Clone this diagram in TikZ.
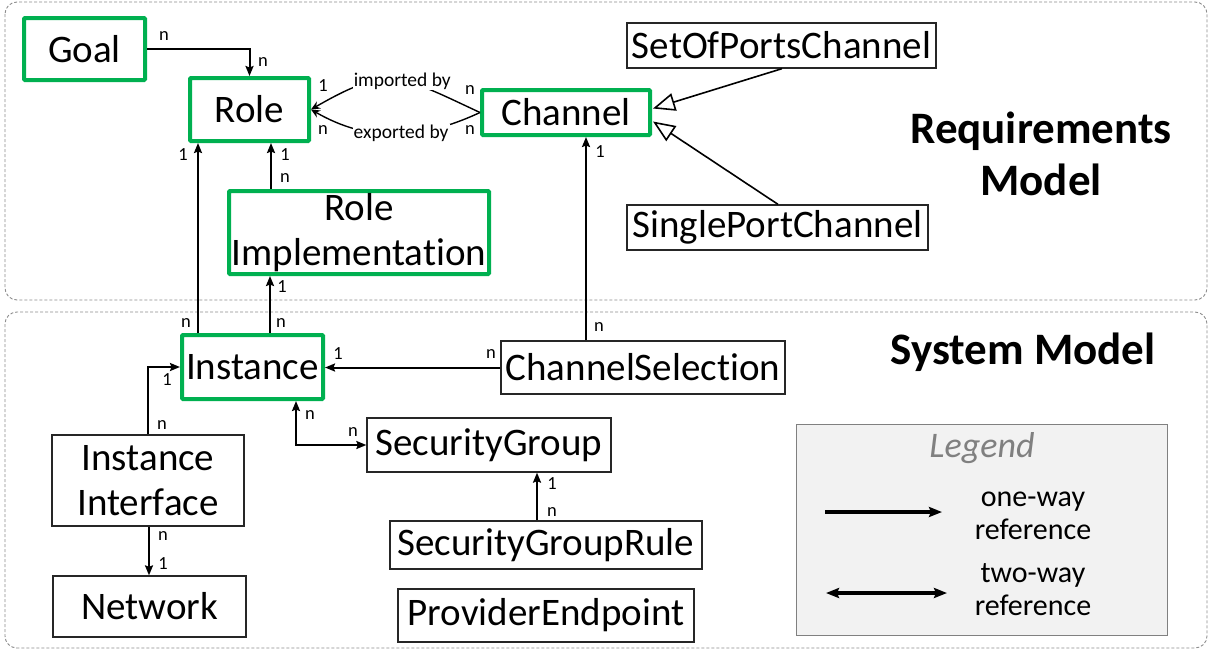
\documentclass[tikz,border=0pt]{standalone}
\usepackage{fontspec}
\setmainfont{Carlito}[Ligatures=NoCommon]
\usetikzlibrary{arrows.meta,calc}
\definecolor{modelgreen}{HTML}{00B050}
\definecolor{legendfill}{HTML}{F2F2F2}
\tikzset{
  region/.style={draw=black!45, line width=0.9pt, dash pattern=on 3pt off 2pt, rounded corners=12pt},
  keybox/.style={draw=modelgreen, line width=4pt, rounded corners=1pt, inner sep=0pt, align=center,
                 font=\fontsize{39}{45}\selectfont},
  plainbox/.style={draw=black!85, line width=1.3pt, inner sep=0pt, align=center,
                   font=\fontsize{39}{45}\selectfont},
  ref/.style={line width=2pt, -{Stealth[length=10pt,width=8pt,inset=1.5pt]}},
  bothref/.style={line width=2pt, {Stealth[length=10pt,width=8pt,inset=1.5pt]}-{Stealth[length=10pt,width=8pt,inset=1.5pt]}},
  thinref/.style={line width=1.4pt, -{Stealth[length=9pt,width=8pt,inset=3pt]}},
  inherit/.style={line width=1.6pt, -{Triangle[open,length=22pt,width=18pt,fill=white]}},
  card/.style={font=\fontsize{18.5}{21}\selectfont, inner sep=0pt},
  curvelab/.style={font=\fontsize{19.5}{22}\selectfont, fill=white, inner sep=1pt},
  heading/.style={font=\bfseries\fontsize{45}{52}\selectfont, align=center, inner sep=0pt},
}
\begin{document}
\begin{tikzpicture}[x=1pt, y=-1pt]
\useasboundingbox (0,0) rectangle (1210,651);

% model regions
\draw[region] (5,2) rectangle (1207,300);
\draw[region] (5,312) rectangle (1207,648);

% requirements model classes
\node[keybox, minimum width=121pt, minimum height=62pt] (goal) at (84.5,49) {Goal};
\node[keybox, minimum width=119pt, minimum height=63pt] (role) at (249.5,109.5) {Role};
\node[keybox, minimum width=168pt, minimum height=45pt] (chan) at (566,112.5) {Channel};
\node[keybox, minimum width=260pt, minimum height=83pt] (rimpl) at (359,232.5) {Role\\Implementation};
\node[plainbox, minimum width=309pt, minimum height=45pt] (setch) at (781.5,45.5) {SetOfPortsChannel};
\node[plainbox, minimum width=301pt, minimum height=45pt] (singch) at (777.5,227.5) {SinglePortChannel};

% system model classes
\node[keybox, minimum width=141pt, minimum height=64pt] (inst) at (252.5,367) {Instance};
\node[plainbox, minimum width=284pt, minimum height=53pt] (chsel) at (643,367.5) {ChannelSelection};
\node[plainbox, minimum width=244pt, minimum height=54pt] (sg) at (489,445) {SecurityGroup};
\node[plainbox, minimum width=312pt, minimum height=48pt] (sgr) at (546,545) {SecurityGroupRule};
\node[plainbox, minimum width=296pt, minimum height=53pt] (pe) at (546,615.5) {ProviderEndpoint};
\node[plainbox, minimum width=192pt, minimum height=91pt] (iface) at (148,480.5) {Instance\\Interface};
\node[plainbox, minimum width=193pt, minimum height=61pt] (net) at (149.5,606.5) {Network};

% headings
\node[heading] (reqtitle) at (1041,154) {Requirements\\Model};
\node[heading] (systitle) at (1023,352) {System Model};

% references
\draw[ref] (goal.east) -| (role.north);
\draw[ref] (271,0 |- rimpl.north) -- (271,0 |- role.south);
\draw[ref] (198,0 |- inst.north) -- (198,0 |- role.south);
\draw[ref] (270,0 |- inst.north) -- (270,0 |- rimpl.south);
\draw[ref] (586,0 |- chsel.north) -- (586,0 |- chan.south);
\draw[ref] (chsel.west) -- (chsel.west -| inst.east);
\draw[ref] (iface.north) |- (inst.west);
\draw[bothref] (296,0 |- inst.south) |- (sg.west);
\draw[ref] (537,0 |- sgr.north) -- (537,0 |- sg.south);
\draw[ref] (149,0 |- iface.south) -- (149,0 |- net.north);

% channel kinds
\draw[inherit] (782,0 |- setch.south) -- ($(chan.east)+(1,-4)$);
\draw[inherit] (778,0 |- singch.north) -- ($(chan.east)+(1,9)$);

% import / export between roles and channels
\draw[thinref] (chan.west) to[out=155, in=30, looseness=1.35] node[curvelab, pos=0.44] (imp) {imported by} (role.east);
\draw[thinref] (chan.west) to[out=205, in=-30, looseness=1.0] node[curvelab, pos=0.46] (exp) {exported by} (role.east);

% multiplicities
\node[card] (m1) at (164,36) {n};
\node[card] (m2) at (263,62) {n};
\node[card] (m3) at (323,86) {1};
\node[card] (m4) at (323,130) {n};
\node[card] (m5) at (470,90) {n};
\node[card] (m6) at (470,130) {n};
\node[card] (m7) at (183,155) {1};
\node[card] (m8) at (285,155) {1};
\node[card] (m9) at (285,178) {n};
\node[card] (m10) at (282,287) {1};
\node[card] (m11) at (186,323) {n};
\node[card] (m12) at (281,323) {n};
\node[card] (m13) at (600,152) {1};
\node[card] (m14) at (599,327) {n};
\node[card] (m15) at (338,354) {1};
\node[card] (m16) at (491,354) {n};
\node[card] (m17) at (167,380) {1};
\node[card] (m18) at (162,425) {n};
\node[card] (m19) at (310,415) {n};
\node[card] (m20) at (353,432) {n};
\node[card] (m21) at (552,484) {1};
\node[card] (m22) at (552,512) {n};
\node[card] (m23) at (163,536) {n};
\node[card] (m24) at (163,564) {1};

% legend
\node[draw=black!50, fill=legendfill, line width=1pt, minimum width=371pt, minimum height=211pt] (legend) at (982,530) {};
\node[font=\itshape\fontsize{36}{40}\selectfont, text=black!50, inner sep=0pt] (legtitle) at (982,448) {Legend};
\coordinate (onea) at (825,512);
\coordinate (oneb) at (942,512);
\coordinate (twoa) at (826,593);
\coordinate (twob) at (947,593);
\draw[line width=3.2pt, -{Stealth[length=13pt,width=10pt,inset=2pt]}] (onea) -- (oneb);
\draw[line width=3.2pt, {Stealth[length=13pt,width=10pt,inset=2pt]}-{Stealth[length=13pt,width=10pt,inset=2pt]}] (twoa) -- (twob);
\node[font=\fontsize{30}{33}\selectfont, align=center, inner sep=0pt] (oneway) at (1033,516) {one-way\\reference};
\node[font=\fontsize{30}{33}\selectfont, align=center, inner sep=0pt] (twoway) at (1033,590) {two-way\\reference};
\end{tikzpicture}
\end{document}
